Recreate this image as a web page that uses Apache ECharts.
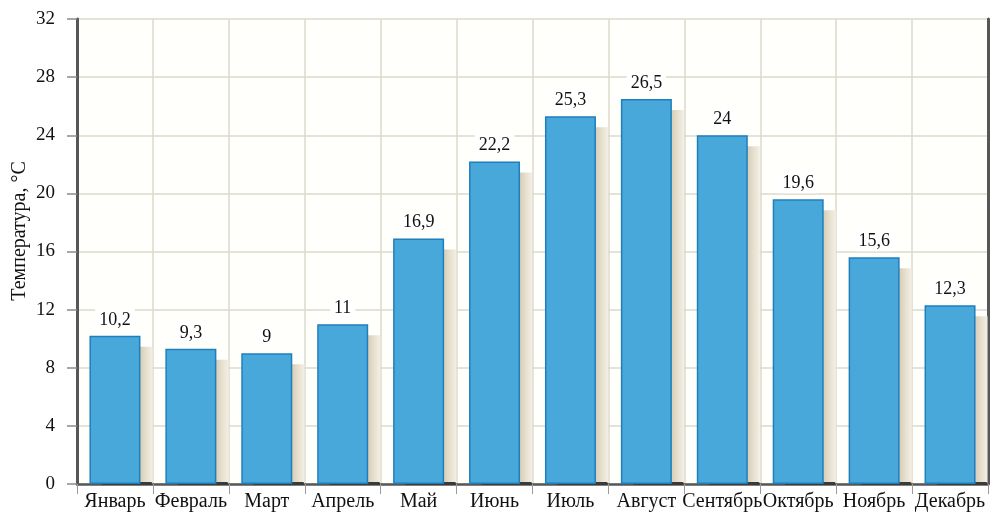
<!DOCTYPE html>
<html>
<head>
<meta charset="utf-8">
<script src="https://cdn.jsdelivr.net/npm/echarts@6/dist/echarts.min.js"></script>
<style>
  html, body { margin: 0; padding: 0; background: #ffffff; }
  #chart { width: 1001px; height: 513px; }
</style>
</head>
<body>
<div id="chart"></div>
<script>
// Monthly average temperature
const months = ['Январь', 'Февраль', 'Март', 'Апрель', 'Май', 'Июнь',
                'Июль', 'Август', 'Сентябрь', 'Октябрь', 'Ноябрь', 'Декабрь'];
const temperatures = [10.2, 9.3, 9, 11, 16.9, 22.2, 25.3, 26.5, 24, 19.6, 15.6, 12.3];
const yTitle = 'Температура, °C';

const BAR_W = 51;
const SHADOW_DX = 12;
const SHADOW_DY = 11;
const serif = '"Liberation Serif", "DejaVu Serif", serif';

const fmt = v => String(v).replace('.', ',');

const chart = echarts.init(document.getElementById('chart'), null, { renderer: 'canvas' });

chart.setOption({
  animation: false,
  backgroundColor: '#ffffff',
  grid: {
    left: 77, right: 13, top: 19, bottom: 29,
    outerBoundsMode: 'none',
    containLabel: false,
    show: true, backgroundColor: '#fffffb', borderWidth: 0
  },
  graphic: [{
    type: 'text',
    x: 20,
    y: 231,
    rotation: Math.PI / 2,
    style: {
      text: yTitle,
      font: '20px ' + serif,
      fill: '#111',
      align: 'center',
      verticalAlign: 'middle'
    }
  }],
  xAxis: [{
    type: 'category',
    data: months,
    boundaryGap: true,
    axisLine: { lineStyle: { color: '#8a8a8a', width: 1 } },
    axisTick: { show: true, length: 10, lineStyle: { color: '#9a9a9a' } },
    axisLabel: { color: '#111', fontFamily: serif, fontSize: 20, margin: 8, interval: 0, hideOverlap: false },
    splitLine: { show: true, lineStyle: { color: '#ddd8cb', width: 1.5 } }
  }, {
    type: 'category',
    data: months,
    position: 'top',
    axisLine: { lineStyle: { color: '#575757', width: 2.5 } },
    axisTick: { show: false },
    axisLabel: { show: false },
    splitLine: { show: false }
  }],
  yAxis: [{
    type: 'value',
    min: 0, max: 32, interval: 4,
    axisLine: { show: true, lineStyle: { color: '#575757', width: 3 } },
    axisTick: { show: true, length: 10, lineStyle: { color: '#8a8a8a', width: 1.5 } },
    axisLabel: { color: '#111', fontFamily: serif, fontSize: 19, margin: 22 },
    splitLine: { show: true, lineStyle: { color: '#ddd8cb', width: 1.5 } }
  }, {
    type: 'value',
    min: 0, max: 32, interval: 4,
    position: 'right',
    axisLine: { show: true, lineStyle: { color: '#575757', width: 3 } },
    axisTick: { show: false },
    axisLabel: { show: false },
    splitLine: { show: false }
  }],
  series: [{
    // soft drop shadow behind each bar
    type: 'custom',
    z: 1,
    data: temperatures.map((v, i) => [i, v]),
    renderItem: function (params, api) {
      const top = api.coord([api.value(0), api.value(1)]);
      const base = api.coord([api.value(0), 0]);
      const x = top[0] - BAR_W / 2 + SHADOW_DX;
      const y = top[1] + SHADOW_DY;
      const h = Math.max(0, base[1] - y);
      return {
        type: 'group',
        children: [{
          type: 'rect',
          shape: { x: x, y: y, width: BAR_W, height: h },
          style: {
            fill: new echarts.graphic.LinearGradient(0, 0, 1, 0, [
              { offset: 0, color: '#cfc3a6' },
              { offset: 0.75, color: '#d6ccb3' },
              { offset: 0.88, color: '#e7e0cf' },
              { offset: 1, color: '#f3efe4' }
            ])
          }
        }, {
          type: 'rect',
          shape: { x: x, y: base[1] - 2, width: BAR_W, height: 3, r: 1.5 },
          style: { fill: '#3a3a3a' }
        }]
      };
    }
  }, {
    type: 'bar',
    z: 3,
    data: temperatures,
    barWidth: BAR_W,
    itemStyle: {
      color: '#47a8d9',
      borderColor: '#1f7fbe',
      borderWidth: 1.5
    },
    label: {
      show: true,
      position: 'top',
      distance: 6,
      formatter: p => fmt(p.value),
      color: '#111',
      fontFamily: serif,
      fontSize: 18,
      backgroundColor: '#ffffff',
      padding: [2, 4, 1, 4]
    }
  }]
});
</script>
</body>
</html>
